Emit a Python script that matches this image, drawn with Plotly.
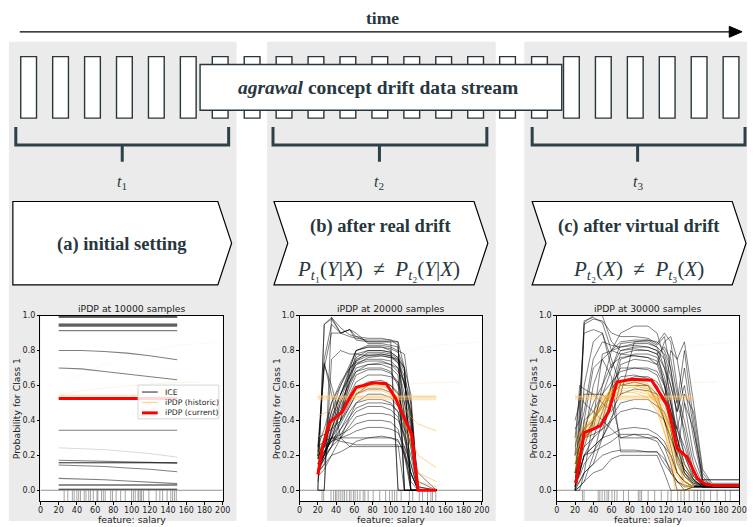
import plotly.graph_objects as go

W, H = 755, 527
SERIF = "Liberation Serif, Times New Roman, serif"
SANS = "DejaVu Sans, Verdana, sans-serif"
INK = "#27373d"

# ---------------- data ----------------
X_TICKS = [0, 20, 40, 60, 80, 100, 120, 140, 160, 180, 200]
Y_TICKS = [0.0, 0.2, 0.4, 0.6, 0.8, 1.0]
Y_TICK_TEXT = ["0.0", "0.2", "0.4", "0.6", "0.8", "1.0"]
TITLES = ["iPDP at 10000 samples", "iPDP at 20000 samples", "iPDP at 30000 samples"]

# panel 1 (10000 samples)
X1 = [20, 45, 70, 95, 120, 150]
ICE1 = [
    [1.0] * 6, [1.0] * 6, [0.994] * 6, [0.99] * 6,
    [0.952] * 6, [0.95] * 6, [0.943] * 6, [0.94] * 6, [0.914] * 6,
    [0.80, 0.80, 0.795, 0.785, 0.77, 0.747],
    [0.70, 0.695, 0.68, 0.665, 0.65, 0.633],
    [0.344] * 6,
    [0.172, 0.17, 0.167, 0.163, 0.16, 0.155],
    [0.158] * 6, [0.158] * 6,
    [0.145, 0.142, 0.136, 0.128, 0.12, 0.106],
    [0.068, 0.065, 0.06, 0.053, 0.046, 0.038],
    [0.030] * 6, [0.030] * 6,
    [0.006] * 6, [0.006] * 6,
]
ICE1_FAINT = [[0.243, 0.24, 0.233, 0.222, 0.21, 0.19]]
HIST1 = [[0.535] * 6, [0.545] * 6, [0.53] * 6]
CUR1 = [0.525] * 6
RUG1 = [26, 30, 35, 37, 40, 42, 44, 48, 50, 53, 55, 58, 62, 63, 67, 69, 71, 77, 79, 83,
        88, 93, 100, 102, 104, 107, 108, 110, 111, 113, 119, 127, 131, 134, 139, 143,
        145, 147, 149]

# faint historic curves reaching beyond the data range
FAINT_A_X = [20, 60, 100, 140, 175]
FAINT_A_Y = [0.55, 0.58, 0.60, 0.615, 0.62]
FAINT_B_X = [20, 60, 100, 150, 200]
FAINT_B_Y = [0.60, 0.70, 0.78, 0.83, 0.85]

# panel 2 (20000 samples)
X2 = [20, 27, 35, 45, 55, 62, 75, 90, 100, 108, 115, 122, 130, 150]
ICE2 = [
    [0.00, 0.95, 0.99, 0.90, 0.92, 0.86, 0.85, 0.85, 0.85, 0.85, 0.00, 0.00, 0.00, 0.00],
    [0.00, 0.00, 0.99, 0.93, 0.89, 0.88, 0.87, 0.87, 0.86, 0.83, 0.00, 0.00, 0.00, 0.00],
    [0.18, 0.75, 0.95, 0.90, 0.88, 0.87, 0.86, 0.86, 0.86, 0.85, 0.70, 0.00, 0.00, 0.00],
    [0.20, 0.72, 0.60, 0.40, 0.70, 0.80, 0.82, 0.82, 0.81, 0.79, 0.70, 0.55, 0.00, 0.00],
    [0.15, 0.20, 0.30, 0.45, 0.65, 0.78, 0.80, 0.80, 0.79, 0.76, 0.60, 0.45, 0.00, 0.00],
    [0.12, 0.18, 0.25, 0.40, 0.62, 0.75, 0.78, 0.78, 0.77, 0.73, 0.62, 0.38, 0.00, 0.00],
    [0.20, 0.30, 0.50, 0.60, 0.70, 0.73, 0.75, 0.75, 0.74, 0.70, 0.50, 0.30, 0.02, 0.00],
    [0.10, 0.15, 0.35, 0.50, 0.62, 0.70, 0.72, 0.72, 0.70, 0.66, 0.00, 0.00, 0.00, 0.00],
    [0.12, 0.20, 0.30, 0.45, 0.58, 0.66, 0.69, 0.69, 0.67, 0.62, 0.45, 0.30, 0.05, 0.00],
    [0.20, 0.25, 0.35, 0.48, 0.60, 0.68, 0.70, 0.70, 0.68, 0.60, 0.35, 0.10, 0.00, 0.00],
    [0.10, 0.20, 0.30, 0.40, 0.50, 0.58, 0.62, 0.63, 0.60, 0.55, 0.40, 0.25, 0.00, 0.00],
    [0.15, 0.22, 0.30, 0.38, 0.48, 0.55, 0.58, 0.58, 0.56, 0.50, 0.30, 0.10, 0.00, 0.00],
    [0.10, 0.18, 0.25, 0.35, 0.45, 0.50, 0.52, 0.52, 0.50, 0.45, 0.20, 0.00, 0.00, 0.00],
    [0.20, 0.22, 0.28, 0.32, 0.40, 0.45, 0.48, 0.48, 0.46, 0.42, 0.30, 0.15, 0.00, 0.00],
    [0.18, 0.20, 0.25, 0.30, 0.37, 0.42, 0.44, 0.44, 0.43, 0.40, 0.32, 0.20, 0.00, 0.00],
    [0.20, 0.25, 0.30, 0.32, 0.35, 0.38, 0.40, 0.40, 0.39, 0.35, 0.20, 0.10, 0.00, 0.00],
    [0.25, 0.28, 0.30, 0.30, 0.32, 0.34, 0.36, 0.36, 0.35, 0.33, 0.25, 0.15, 0.00, 0.00],
    [0.20, 0.22, 0.28, 0.30, 0.30, 0.30, 0.30, 0.30, 0.30, 0.29, 0.20, 0.05, 0.00, 0.00],
    [0.15, 0.20, 0.30, 0.28, 0.27, 0.26, 0.26, 0.26, 0.26, 0.26, 0.00, 0.00, 0.00, 0.00],
    [0.25, 0.73, 0.55, 0.30, 0.25, 0.25, 0.25, 0.25, 0.25, 0.25, 0.25, 0.00, 0.00, 0.00],
    [0.10, 0.15, 0.20, 0.22, 0.25, 0.28, 0.30, 0.31, 0.30, 0.28, 0.22, 0.10, 0.00, 0.00],
    [0.30, 0.32, 0.35, 0.40, 0.48, 0.55, 0.60, 0.62, 0.60, 0.56, 0.42, 0.33, 0.02, 0.00],
    [0.05, 0.30, 0.45, 0.55, 0.65, 0.72, 0.76, 0.77, 0.76, 0.73, 0.60, 0.45, 0.00, 0.00],
    [0.00, 0.00, 0.75, 0.80, 0.78, 0.78, 0.77, 0.77, 0.76, 0.75, 0.70, 0.00, 0.00, 0.00],
    [0.22, 0.70, 0.90, 0.90, 0.92, 0.90, 0.84, 0.84, 0.83, 0.82, 0.40, 0.00, 0.00, 0.00],
    [0.18, 0.25, 0.40, 0.55, 0.70, 0.80, 0.83, 0.83, 0.82, 0.80, 0.78, 0.50, 0.00, 0.00],
    [0.08, 0.12, 0.20, 0.30, 0.42, 0.50, 0.55, 0.55, 0.53, 0.48, 0.38, 0.25, 0.00, 0.00],
    [0.22, 0.25, 0.28, 0.35, 0.42, 0.47, 0.50, 0.50, 0.49, 0.45, 0.35, 0.28, 0.10, 0.00],
    [0.20, 0.28, 0.45, 0.60, 0.72, 0.80, 0.82, 0.82, 0.80, 0.00, 0.00, 0.00, 0.00, 0.00],
    [0.15, 0.25, 0.40, 0.55, 0.68, 0.76, 0.80, 0.80, 0.79, 0.76, 0.70, 0.00, 0.00, 0.00],
    [0.25, 0.35, 0.50, 0.62, 0.70, 0.74, 0.77, 0.78, 0.77, 0.74, 0.65, 0.50, 0.00, 0.00],
    [0.10, 0.20, 0.35, 0.50, 0.62, 0.68, 0.72, 0.73, 0.72, 0.68, 0.62, 0.40, 0.00, 0.00],
    [0.18, 0.30, 0.42, 0.55, 0.66, 0.72, 0.74, 0.74, 0.72, 0.70, 0.55, 0.35, 0.00, 0.00],
    [0.12, 0.22, 0.33, 0.45, 0.55, 0.62, 0.66, 0.66, 0.65, 0.62, 0.50, 0.32, 0.00, 0.00],
    [0.00, 0.95, 0.98, 0.90, 0.92, 0.88, 0.85, 0.85, 0.85, 0.00, 0.00, 0.00, 0.00, 0.00],
    [0.20, 0.26, 0.38, 0.52, 0.66, 0.74, 0.79, 0.79, 0.78, 0.75, 0.68, 0.42, 0.00, 0.00],
]
HIST2_BAND = [[0.52] * 14, [0.53] * 14, [0.535] * 14, [0.54] * 14]
HIST2 = [
    [0.43, 0.44, 0.46, 0.50, 0.55, 0.58, 0.59, 0.59, 0.58, 0.55, 0.47, 0.42, 0.38, 0.34],
    [0.30, 0.35, 0.40, 0.45, 0.52, 0.56, 0.58, 0.58, 0.56, 0.52, 0.42, 0.30, 0.20, 0.13],
    [0.20, 0.30, 0.38, 0.43, 0.50, 0.55, 0.57, 0.57, 0.55, 0.50, 0.38, 0.25, 0.10, 0.05],
    [0.15, 0.30, 0.40, 0.44, 0.52, 0.57, 0.60, 0.60, 0.58, 0.52, 0.40, 0.30, 0.05, 0.02],
]
CUR2_X = [20, 25, 33, 40, 47, 55, 62, 70, 80, 95, 105, 110, 117, 123, 130, 150]
CUR2_Y = [0.09, 0.24, 0.39, 0.42, 0.45, 0.53, 0.59, 0.60, 0.615, 0.61, 0.53, 0.47, 0.39, 0.32, 0.0, 0.0]
RUG2 = [24.6, 26.4, 34.4, 37.3, 39.4, 40.9, 43.0, 45.2, 47.4, 49.2, 51.7, 54.6, 56.4, 59.0,
        60.8, 63.3, 66.2, 69.8, 71.6, 75.2, 80.7, 87.9, 94.4, 98.7, 101.6, 104.2, 106.7,
        111.4, 120.4, 124.1, 131.3, 134.9, 140.3, 144.0, 145.8, 149.4]

# panel 3 (30000 samples)
X3 = [20, 25, 30, 40, 50, 60, 70, 85, 100, 110, 118, 125, 132, 140, 150, 160, 170, 200]
ICE3 = [
    [0.00, 0.30, 0.96, 1.00, 1.00, 0.85, 0.80, 0.82, 0.82, 0.80, 0.60, 0.50, 0.30, 0.15, 0.06, 0.06, 0.06, 0.06],
    [0.02, 0.50, 0.95, 0.98, 0.97, 0.90, 0.88, 0.88, 0.87, 0.84, 0.90, 0.85, 0.60, 0.30, 0.08, 0.03, 0.02, 0.02],
    [0.40, 0.50, 0.90, 0.92, 0.90, 0.75, 0.60, 0.62, 0.60, 0.55, 0.50, 0.80, 0.75, 0.50, 0.20, 0.05, 0.02, 0.02],
    [0.20, 0.60, 0.58, 0.55, 0.50, 0.45, 0.55, 0.85, 0.86, 0.85, 0.80, 0.70, 0.40, 0.20, 0.06, 0.02, 0.02, 0.02],
    [0.05, 0.15, 0.30, 0.60, 0.75, 0.80, 0.82, 0.83, 0.82, 0.80, 0.75, 0.60, 0.45, 0.60, 0.30, 0.05, 0.03, 0.03],
    [0.00, 0.02, 0.05, 0.20, 0.40, 0.60, 0.78, 0.80, 0.80, 0.78, 0.70, 0.55, 0.30, 0.10, 0.03, 0.02, 0.02, 0.02],
    [0.10, 0.20, 0.25, 0.30, 0.35, 0.50, 0.72, 0.75, 0.74, 0.72, 0.60, 0.40, 0.20, 0.10, 0.05, 0.03, 0.03, 0.03],
    [0.05, 0.10, 0.20, 0.30, 0.45, 0.60, 0.70, 0.70, 0.69, 0.66, 0.55, 0.35, 0.15, 0.08, 0.04, 0.03, 0.03, 0.03],
    [0.20, 0.30, 0.35, 0.40, 0.50, 0.58, 0.65, 0.66, 0.64, 0.60, 0.50, 0.40, 0.35, 0.55, 0.45, 0.10, 0.03, 0.03],
    [0.10, 0.20, 0.30, 0.35, 0.40, 0.50, 0.55, 0.58, 0.57, 0.55, 0.40, 0.25, 0.10, 0.05, 0.02, 0.02, 0.02, 0.02],
    [0.00, 0.10, 0.20, 0.25, 0.30, 0.40, 0.45, 0.47, 0.46, 0.44, 0.40, 0.30, 0.20, 0.12, 0.06, 0.03, 0.02, 0.02],
    [0.10, 0.12, 0.20, 0.25, 0.30, 0.32, 0.35, 0.36, 0.35, 0.32, 0.28, 0.20, 0.10, 0.05, 0.02, 0.02, 0.02, 0.02],
    [0.05, 0.10, 0.20, 0.22, 0.25, 0.28, 0.32, 0.32, 0.32, 0.30, 0.25, 0.15, 0.00, 0.00, 0.02, 0.02, 0.02, 0.02],
    [0.00, 0.05, 0.10, 0.15, 0.20, 0.22, 0.23, 0.23, 0.22, 0.22, 0.15, 0.10, 0.05, 0.03, 0.02, 0.02, 0.02, 0.02],
    [0.00, 0.02, 0.05, 0.10, 0.12, 0.18, 0.20, 0.20, 0.20, 0.20, 0.10, 0.00, 0.00, 0.00, 0.02, 0.02, 0.02, 0.02],
    [0.30, 0.55, 0.50, 0.45, 0.40, 0.35, 0.30, 0.30, 0.30, 0.30, 0.25, 0.20, 0.10, 0.05, 0.02, 0.02, 0.02, 0.02],
    [0.05, 0.20, 0.30, 0.35, 0.60, 0.80, 0.90, 0.94, 0.94, 0.90, 0.75, 0.50, 0.25, 0.10, 0.04, 0.02, 0.02, 0.02],
    [0.00, 0.00, 0.10, 0.40, 0.78, 0.80, 0.78, 0.77, 0.76, 0.72, 0.85, 0.88, 0.75, 0.85, 0.50, 0.12, 0.04, 0.04],
    [0.10, 0.20, 0.30, 0.40, 0.48, 0.55, 0.60, 0.60, 0.60, 0.50, 0.40, 0.30, 0.20, 0.50, 0.35, 0.08, 0.02, 0.02],
    [0.20, 0.25, 0.40, 0.45, 0.55, 0.62, 0.68, 0.70, 0.70, 0.68, 0.60, 0.45, 0.30, 0.15, 0.06, 0.02, 0.02, 0.02],
    [0.02, 0.05, 0.10, 0.15, 0.30, 0.55, 0.75, 0.78, 0.78, 0.76, 0.65, 0.50, 0.35, 0.20, 0.08, 0.03, 0.02, 0.02],
    [0.35, 0.40, 0.55, 0.55, 0.55, 0.50, 0.30, 0.32, 0.30, 0.28, 0.20, 0.10, 0.05, 0.00, 0.00, 0.00, 0.00, 0.00],
    [0.00, 0.40, 0.97, 0.99, 0.96, 0.80, 0.85, 0.86, 0.86, 0.83, 0.88, 0.70, 0.50, 0.80, 0.40, 0.06, 0.06, 0.06],
    [0.25, 0.35, 0.45, 0.75, 0.85, 0.83, 0.82, 0.84, 0.84, 0.82, 0.78, 0.65, 0.50, 0.35, 0.10, 0.03, 0.02, 0.02],
    [0.15, 0.25, 0.30, 0.32, 0.35, 0.40, 0.62, 0.65, 0.65, 0.62, 0.55, 0.45, 0.25, 0.12, 0.05, 0.02, 0.02, 0.02],
    [0.05, 0.08, 0.15, 0.22, 0.30, 0.42, 0.50, 0.52, 0.52, 0.48, 0.45, 0.35, 0.18, 0.08, 0.03, 0.02, 0.02, 0.02],
    [0.10, 0.25, 0.60, 0.85, 0.90, 0.70, 0.80, 0.81, 0.80, 0.78, 0.82, 0.75, 0.55, 0.40, 0.15, 0.03, 0.02, 0.02],
    [0.05, 0.15, 0.25, 0.40, 0.55, 0.70, 0.84, 0.85, 0.85, 0.82, 0.70, 0.60, 0.45, 0.70, 0.35, 0.06, 0.03, 0.03],
    [0.15, 0.20, 0.35, 0.50, 0.60, 0.72, 0.76, 0.77, 0.76, 0.74, 0.62, 0.45, 0.35, 0.25, 0.10, 0.03, 0.02, 0.02],
    [0.02, 0.10, 0.40, 0.70, 0.75, 0.65, 0.22, 0.22, 0.22, 0.22, 0.18, 0.12, 0.05, 0.02, 0.02, 0.02, 0.02, 0.02],
]
OX3 = [20, 30, 40, 50, 60, 70, 85, 100, 110, 120, 130, 140, 150]
HIST3_BAND = [[0.52] * 13, [0.53] * 13, [0.535] * 13, [0.54] * 13]
HIST3 = [
    [0.10, 0.30, 0.38, 0.45, 0.55, 0.60, 0.60, 0.58, 0.50, 0.35, 0.05, 0.02, 0.02],
    [0.15, 0.32, 0.40, 0.47, 0.57, 0.62, 0.62, 0.60, 0.52, 0.40, 0.12, 0.03, 0.02],
    [0.20, 0.35, 0.42, 0.50, 0.58, 0.62, 0.63, 0.61, 0.55, 0.45, 0.25, 0.08, 0.03],
    [0.05, 0.28, 0.35, 0.42, 0.52, 0.58, 0.59, 0.56, 0.48, 0.30, 0.00, 0.00, 0.00],
    [0.25, 0.38, 0.45, 0.52, 0.58, 0.60, 0.60, 0.58, 0.52, 0.42, 0.28, 0.15, 0.05],
    [0.30, 0.36, 0.40, 0.48, 0.55, 0.57, 0.57, 0.55, 0.50, 0.40, 0.20, 0.05, 0.02],
    [0.12, 0.30, 0.36, 0.44, 0.52, 0.56, 0.56, 0.53, 0.45, 0.30, 0.10, 0.03, 0.02],
    [0.18, 0.34, 0.41, 0.49, 0.57, 0.61, 0.61, 0.59, 0.53, 0.42, 0.18, 0.05, 0.02],
]
CUR3_X = [21, 30, 40, 48, 57, 66, 82, 104, 122, 132, 143, 154, 162, 172, 200]
CUR3_Y = [0.04, 0.33, 0.35, 0.37, 0.45, 0.62, 0.635, 0.63, 0.48, 0.24, 0.19, 0.07, 0.035, 0.028, 0.028]
RUG3 = [28.1, 29.9, 45.4, 47.2, 49.7, 52.6, 55.1, 56.9, 60.5, 63.4, 66.0, 73.2, 78.6, 89.4,
        91.2, 93.0, 100.2, 107.4, 114.6, 121.8, 125.4, 132.6, 136.2, 139.8, 145.2, 150.6,
        154.3, 157.9, 161.5, 168.7, 175.9, 184.9, 190.3]

LEGEND_LABELS = ["ICE", "iPDP (historic)", "iPDP (current)"]


# ---------------- layout helpers (pixel -> paper) ----------------
def px(x):
    return x / W


def py(y):
    return 1 - y / H


def path(pts, close=False):
    s = " ".join(("M" if i == 0 else "L") + f" {px(a):.5f},{py(b):.5f}" for i, (a, b) in enumerate(pts))
    return s + (" Z" if close else "")


fig = go.Figure()
AX = [("x", "y"), ("x2", "y2"), ("x3", "y3")]
YMIN = -0.0625


def lines(xs, ys_list, k, color, width):
    for ys in ys_list:
        fig.add_trace(go.Scatter(x=xs, y=ys, mode="lines", line=dict(color=color, width=width),
                                 xaxis=AX[k][0], yaxis=AX[k][1], showlegend=False, hoverinfo="skip"))


def rug(vals, k):
    xs, ys = [], []
    for v in vals:
        xs += [v, v, None]
        ys += [YMIN, 0, None]
    fig.add_trace(go.Scatter(x=xs, y=ys, mode="lines", line=dict(color="rgba(90,90,90,0.55)", width=1),
                             xaxis=AX[k][0], yaxis=AX[k][1], showlegend=False, hoverinfo="skip"))
    fig.add_trace(go.Scatter(x=[0, 200], y=[0, 0], mode="lines", line=dict(color="rgba(120,120,120,0.8)", width=1),
                             xaxis=AX[k][0], yaxis=AX[k][1], showlegend=False, hoverinfo="skip"))


FAINT_ORANGE = "rgba(255,190,110,0.18)"
BAND = "rgba(255,200,120,0.45)"

# panel 1
rug(RUG1, 0)
lines(FAINT_B_X, [FAINT_B_Y], 0, "rgba(255,200,120,0.10)", 1)
lines(FAINT_A_X, [FAINT_A_Y], 0, FAINT_ORANGE, 1)
lines(X1, ICE1_FAINT, 0, "rgba(0,0,0,0.15)", 1)
lines(X1, ICE1, 0, "rgba(0,0,0,0.5)", 1.1)
lines(X1, HIST1, 0, BAND, 1.2)
lines(X1, [CUR1], 0, "#ff0000", 3)

# panel 2
rug(RUG2, 1)
lines(FAINT_B_X, [FAINT_B_Y], 1, "rgba(255,200,120,0.10)", 1)
lines(FAINT_A_X, [FAINT_A_Y], 1, FAINT_ORANGE, 1)
lines(X2, ICE2, 1, "rgba(0,0,0,0.5)", 1)
lines(X2, HIST2_BAND, 1, BAND, 1.5)
lines(X2, HIST2, 1, "rgba(255,170,40,0.5)", 1)
lines(CUR2_X, [CUR2_Y], 1, "#ff0000", 3)

# panel 3
rug(RUG3, 2)
lines(FAINT_B_X, [FAINT_B_Y], 2, "rgba(255,200,120,0.10)", 1)
lines(FAINT_A_X, [FAINT_A_Y], 2, FAINT_ORANGE, 1)
lines(X3, ICE3, 2, "rgba(0,0,0,0.5)", 1)
lines(OX3, HIST3_BAND, 2, BAND, 1.5)
lines(OX3, HIST3, 2, "rgba(255,165,0,0.45)", 1.1)
lines(CUR3_X, [CUR3_Y], 2, "#ff0000", 3)

# ---------------- axes ----------------
XDOM = [(38, 223), (301, 486), (562, 747)]
YDOM = (314, 501)
axis_common = dict(showline=True, mirror=True, linecolor="black", linewidth=1, ticks="outside",
                   ticklen=2.5, tickwidth=1, tickcolor="black", showgrid=False, zeroline=False,
                   tickangle=0, tickfont=dict(family=SANS, size=8, color="#222"), fixedrange=True)
lay = {}
for k in range(3):
    xn = "xaxis" if k == 0 else f"xaxis{k + 1}"
    yn = "yaxis" if k == 0 else f"yaxis{k + 1}"
    lay[xn] = dict(domain=[px(XDOM[k][0]), px(XDOM[k][1])], range=[0, 200], tickvals=X_TICKS,
                   anchor=AX[k][1], ticklabelstandoff=-1, **axis_common)
    lay[yn] = dict(domain=[py(YDOM[1]), py(YDOM[0])], range=[YMIN, 1.0], tickvals=Y_TICKS,
                   ticktext=Y_TICK_TEXT, anchor=AX[k][0], **axis_common)
fig.update_layout(**lay)

# ---------------- shapes ----------------
shapes = []
GRAY = "#ebebeb"
for (a, b) in [(6, 237), (268, 500), (529, 755)]:
    shapes.append(dict(type="rect", xref="paper", yref="paper", x0=px(a), x1=px(b), y0=py(521), y1=py(38),
                       fillcolor=GRAY, line=dict(width=0), layer="below"))
for (a, b) in XDOM:
    shapes.append(dict(type="rect", xref="paper", yref="paper", x0=px(a), x1=px(b), y0=py(YDOM[1]),
                       y1=py(YDOM[0]), fillcolor="white", line=dict(width=0), layer="below"))

# time arrow
shapes.append(dict(type="line", xref="paper", yref="paper", x0=px(17), x1=px(740), y0=py(28), y1=py(28),
                   line=dict(color="black", width=1.3)))
shapes.append(dict(type="path", xref="paper", yref="paper", path=path([(737, 22.5), (750, 28), (737, 33.5)], True),
                   fillcolor="black", line=dict(color="black", width=1)))

# stream boxes
for k in range(23):
    x0 = 18 + 32.4 * k
    shapes.append(dict(type="rect", xref="paper", yref="paper", x0=px(x0), x1=px(x0 + 16), y0=py(115), y1=py(53),
                       fillcolor="white", line=dict(color=INK, width=1.4)))
shapes.append(dict(type="rect", xref="paper", yref="paper", x0=px(200), x1=px(567), y0=py(107), y1=py(61),
                   fillcolor="white", line=dict(color=INK, width=1.4)))

# brackets
for (a, b, c) in [(13, 229, 121), (274, 491, 382), (537, 753, 644)]:
    shapes.append(dict(type="path", xref="paper", yref="paper",
                       path=path([(a, 124), (a, 142), (b, 142), (b, 124)]) + " " + path([(c, 142), (c, 159)]),
                       line=dict(color="#2e4148", width=3)))

# chevrons
shapes.append(dict(type="path", xref="paper", yref="paper",
                   path=path([(10, 199), (218, 199), (232, 241), (218, 283), (10, 283)], True),
                   fillcolor="white", line=dict(color="black", width=1.2)))
for (a, b) in [(275, 478), (537, 740)]:
    shapes.append(dict(type="path", xref="paper", yref="paper",
                       path=path([(a, 199), (b, 199), (b + 14, 241), (b, 283), (a, 283), (a + 14, 241)], True),
                       fillcolor="white", line=dict(color="black", width=1.2)))

# legend (panel 1)
legend_y = [391, 401.5, 412]
shapes.append(dict(type="rect", xref="paper", yref="paper", x0=px(137), x1=px(219), y0=py(418), y1=py(384),
                   fillcolor="rgba(255,255,255,0.85)", line=dict(color="#cccccc", width=0.8)))
for yy, col, wd in zip(legend_y, ["#555555", "rgba(255,200,120,0.8)", "#ff0000"], [1.3, 1.3, 3]):
    shapes.append(dict(type="line", xref="paper", yref="paper", x0=px(141), x1=px(157), y0=py(yy), y1=py(yy),
                       line=dict(color=col, width=wd)))

# ---------------- annotations ----------------
ann = []


def text(x, y, s, size, family=SERIF, color=INK, xanchor="center", yanchor="middle", angle=0):
    ann.append(dict(x=px(x), y=py(y), xref="paper", yref="paper", text=s, showarrow=False,
                    font=dict(family=family, size=size, color=color), xanchor=xanchor, yanchor=yanchor,
                    textangle=angle))


NE = "\u2002\u2260\u2002"
text(385, 14, "<b>time</b>", 17.5)
text(381, 84, "<b><i>agrawal</i> concept drift data stream</b>", 19.5)
for (x, n) in [(121, "1"), (382, "2"), (644, "3")]:
    text(x, 180, f"<i>t</i><sub>{n}</sub>", 16)
text(121, 242, "<b>(a) initial setting</b>", 18.5)
text(383, 224, "<b>(b) after real drift</b>", 18.5)
text(645, 224, "<b>(c) after virtual drift</b>", 18.5)
text(381, 268, "<i>P</i><sub><i>t</i>\u2081</sub>(<i>Y</i>|<i>X</i>)" + NE +
     "<i>P</i><sub><i>t</i>\u2082</sub>(<i>Y</i>|<i>X</i>)", 21)
text(645, 268, "<i>P</i><sub><i>t</i>\u2082</sub>(<i>X</i>)" + NE +
     "<i>P</i><sub><i>t</i>\u2083</sub>(<i>X</i>)", 21)

for k in range(3):
    cx = (XDOM[k][0] + XDOM[k][1]) / 2
    text(cx, 307, TITLES[k], 9.3, SANS, "#222")
    text(cx, 519.5, "feature: salary", 9.3, SANS, "#222")
    text(XDOM[k][0] - 24, (YDOM[0] + YDOM[1]) / 2, "Probability for Class 1", 9.3, SANS, "#222", angle=-90)

for yy, lab in zip(legend_y, LEGEND_LABELS):
    text(162, yy, lab, 7.7, SANS, "#222", xanchor="left")

fig.update_layout(width=W, height=H, margin=dict(l=0, r=0, t=0, b=0), paper_bgcolor="white",
                  plot_bgcolor="white", shapes=shapes, annotations=ann, showlegend=False)

POST = ("document.documentElement.style.margin='0';document.documentElement.style.overflow='hidden';"
        "document.body.style.margin='0';document.body.style.overflow='hidden';"
        "var gd=document.getElementById('{plot_id}');gd.style.position='fixed';gd.style.left='0px';"
        "gd.style.top='0px';")

fig.write_html("out.html", config={"displayModeBar": False}, post_script=POST)
